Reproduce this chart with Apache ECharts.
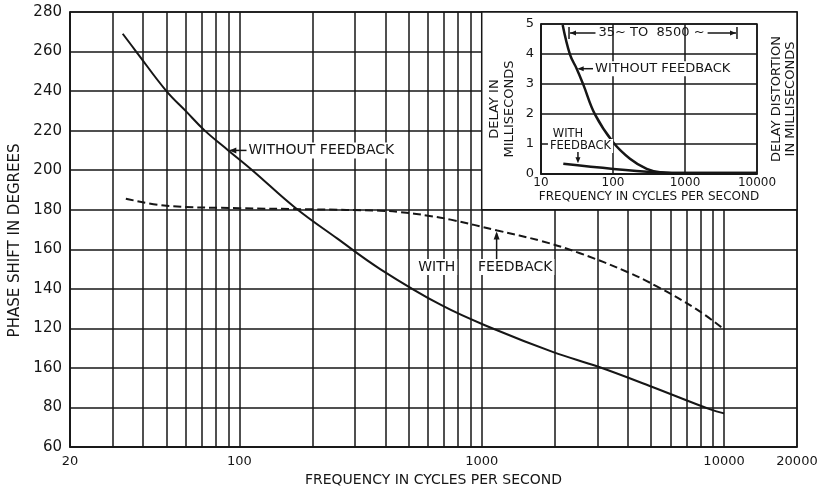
<!DOCTYPE html>
<html><head><meta charset="utf-8">
<script src="https://cdn.jsdelivr.net/npm/echarts@6/dist/echarts.min.js"></script>
<style>html,body{margin:0;padding:0;background:#fff}#c{width:833px;height:488px}</style>
</head><body><div id="c"></div>
<script>
// ---- main chart data (phase shift vs frequency) ----
const freqWithout  = [33, 37.5, 50, 60, 72, 90, 113, 170, 253, 381, 682, 1117, 1974, 3010, 5030, 8780, 10000];
const phaseWithout = [269, 260, 240, 230, 220, 210, 200, 181, 165.5, 150, 131.7, 119.8, 108, 100.7, 90.5, 79, 77];
const freqWith  = [34, 50, 100, 200, 381, 463, 600, 744, 1160, 1758, 2543, 3989, 5324, 7739, 10000];
const phaseWith = [185.6, 182, 180.8, 180.2, 179.5, 178.8, 177, 175, 169.5, 164.2, 158, 148.5, 141, 129.5, 119.5];
const xTickValues = [20, 100, 1000, 10000, 20000];
const xTickLabels = ['20', '100', '1000', '10000', '20000'];
const yTickValues = [60, 80, 100, 120, 140, 160, 180, 200, 220, 240, 260, 280];
const yTickLabels = ['60', '80', '160', '120', '140', '160', '180', '200', '220', '240', '260', '280'];
const minorFreqs = [30, 40, 50, 60, 70, 80, 90, 200, 300, 400, 500, 600, 700, 800, 900, 2000, 3000, 4000, 5000, 6000, 7000, 8000, 9000];

// ---- inset data (delay vs frequency) ----
const insetFreqWithout  = [20, 25.3, 31.3, 38.7, 56.4, 101, 172, 294, 450, 1000, 10000];
const insetDelayWithout = [4.97, 3.98, 3.51, 2.98, 1.98, 1.05, 0.51, 0.17, 0.06, 0.03, 0.03];
const insetFreqWith  = [20.4, 101, 403, 1060, 10000];
const insetDelayWith = [0.34, 0.17, 0.06, 0.03, 0.03];
const insetXTickValues = [10, 100, 1000, 10000];
const insetXTickLabels = ['10', '100', '1000', '10000'];
const insetYTickValues = [0, 1, 2, 3, 4, 5];
const insetYTickLabels = ['0', '1', '2', '3', '4', '5'];

const INK = '#161616';
const FONT = 'DejaVu Sans';
const pair = (xs, ys) => xs.map((x, i) => [x, ys[i]]);
function logLabel(values, labels, v) {
  for (let i = 0; i < values.length; i++) {
    if (Math.abs(Math.log10(values[i]) - Math.log10(v)) < 0.02) return labels[i];
  }
  return '';
}
function linLabel(values, labels, v) {
  for (let i = 0; i < values.length; i++) if (Math.abs(values[i] - v) < 1e-6) return labels[i];
  return '';
}

const chart = echarts.init(document.getElementById('c'), null, {renderer: 'canvas'});
const option = {
  animation: false,
  backgroundColor: '#fff',
  textStyle: {fontFamily: FONT, color: INK},
  grid: [
    {left: 70, right: 36, top: 12, bottom: 41, outerBoundsMode: 'none', containLabel: false, show: true, borderColor: INK, borderWidth: 1.5, backgroundColor: 'transparent', z: 0},
    {left: 541, right: 76, top: 24, bottom: 314, outerBoundsMode: 'none', containLabel: false, show: true, borderColor: INK, borderWidth: 1.5, backgroundColor: '#fff', z: 5}
  ],
  xAxis: [
    {type: 'log', logBase: 10, gridIndex: 0, min: 20, max: 20000,
     name: 'FREQUENCY IN CYCLES PER SECOND', nameLocation: 'middle', nameGap: 21,
     nameTextStyle: {fontSize: 14, color: INK, fontFamily: FONT},
     axisLine: {show: true, lineStyle: {color: INK, width: 1.5}}, axisTick: {show: false},
     axisLabel: {fontSize: 13, color: INK, fontFamily: FONT, margin: 8, formatter: v => logLabel(xTickValues, xTickLabels, v)},
     splitLine: {show: true, lineStyle: {color: INK, width: 1.5}}},
    {type: 'log', logBase: 10, gridIndex: 1, min: 10, max: 10000, z: 5,
     name: 'FREQUENCY IN CYCLES PER SECOND', nameLocation: 'middle', nameGap: 17,
     nameTextStyle: {fontSize: 12, color: INK, fontFamily: FONT},
     axisLine: {show: true, lineStyle: {color: INK, width: 1.5}}, axisTick: {show: false},
     axisLabel: {fontSize: 12, color: INK, fontFamily: FONT, margin: 3, formatter: v => logLabel(insetXTickValues, insetXTickLabels, v)},
     splitLine: {show: true, lineStyle: {color: INK, width: 1.5}}}
  ],
  yAxis: [
    {type: 'value', gridIndex: 0, min: 60, max: 280, interval: 20,
     name: 'PHASE SHIFT IN DEGREES', nameLocation: 'middle', nameGap: 40,
     nameTextStyle: {fontSize: 15, color: INK, fontFamily: FONT, padding: [0, 22, 0, 0]},
     axisLine: {show: true, lineStyle: {color: INK, width: 1.5}}, axisTick: {show: false},
     axisLabel: {fontSize: 15, color: INK, fontFamily: FONT, margin: 8, formatter: v => linLabel(yTickValues, yTickLabels, v)},
     splitLine: {show: true, lineStyle: {color: INK, width: 1.5}}},
    {type: 'value', gridIndex: 1, min: 0, max: 5, interval: 1, z: 5,
     name: 'DELAY IN\nMILLISECONDS', nameLocation: 'middle', nameGap: 24,
     nameTextStyle: {fontSize: 13, lineHeight: 15, color: INK, fontFamily: FONT, padding: [0, 20, 0, 0]},
     axisLine: {show: true, lineStyle: {color: INK, width: 1.5}}, axisTick: {show: false},
     axisLabel: {fontSize: 13, color: INK, fontFamily: FONT, margin: 7, formatter: v => linLabel(insetYTickValues, insetYTickLabels, v)},
     splitLine: {show: true, lineStyle: {color: INK, width: 1.5}}},
    {type: 'value', gridIndex: 1, min: 0, max: 5, interval: 1, z: 5, position: 'right',
     name: 'DELAY DISTORTION\nIN MILLISECONDS', nameLocation: 'middle', nameGap: 13, nameRotate: 90,
     nameTextStyle: {fontSize: 13, lineHeight: 14, color: INK, fontFamily: FONT},
     axisLine: {show: false}, axisTick: {show: false}, axisLabel: {show: false}, splitLine: {show: false}}
  ],
  series: [
    {type: 'line', name: 'WITHOUT FEEDBACK', xAxisIndex: 0, yAxisIndex: 0, z: 4,
     data: pair(freqWithout, phaseWithout), smooth: 0.4, showSymbol: false,
     lineStyle: {color: INK, width: 2},
     markLine: {silent: true, z: 1, symbol: ['none', 'none'], label: {show: false},
       lineStyle: {color: INK, width: 1.5, type: 'solid'},
       data: minorFreqs.map(f => ({xAxis: f}))},
     markArea: {silent: true, z: 3, label: {show: false},
       itemStyle: {color: '#fff', borderColor: INK, borderWidth: 1.5},
       data: [[{coord: [1000, 180]}, {coord: [20000, 280]}]]}},
    {type: 'line', name: 'WITH FEEDBACK', xAxisIndex: 0, yAxisIndex: 0, z: 4,
     data: pair(freqWith, phaseWith), smooth: 0.4, showSymbol: false,
     lineStyle: {color: INK, width: 2, type: [8, 4]}},
    {type: 'line', xAxisIndex: 1, yAxisIndex: 1, z: 6,
     data: pair(insetFreqWithout, insetDelayWithout), smooth: 0.4, showSymbol: false,
     lineStyle: {color: INK, width: 2.5}},
    {type: 'line', xAxisIndex: 1, yAxisIndex: 1, z: 6,
     data: pair(insetFreqWith, insetDelayWith), smooth: 0.4, showSymbol: false,
     lineStyle: {color: INK, width: 2.5}}
  ]
};
chart.setOption(option);

// ---- annotations anchored to data coordinates ----
const P = (s, x, y) => chart.convertToPixel({seriesIndex: s}, [x, y]);
const ctx = document.createElement('canvas').getContext('2d');
function textW(t, size) { ctx.font = size + 'px ' + FONT; return ctx.measureText(t).width; }
const G = [];
function txt(t, x, y, size, align, bg) {
  G.push({type: 'text', z: 10, style: {text: t, x: x, y: y, fill: INK, font: size + 'px "' + FONT + '"',
    textAlign: align || 'center', textVerticalAlign: 'middle',
    backgroundColor: bg ? '#fff' : null, padding: bg ? [1, 2, 1, 2] : 0}});
}
function seg(a, b, w) { G.push({type: 'line', z: 10, shape: {x1: a[0], y1: a[1], x2: b[0], y2: b[1]}, style: {stroke: INK, lineWidth: w || 1.5}}); }
function head(tip, dir, len, half) {
  const bx = tip[0] - dir[0] * len, by = tip[1] - dir[1] * len;
  const px = -dir[1], py = dir[0];
  G.push({type: 'polygon', z: 10, shape: {points: [tip, [bx + px * half, by + py * half], [bx - px * half, by - py * half]]}, style: {fill: INK}});
}

// main: WITHOUT FEEDBACK
{
  const tip = P(0, 90, 210);
  const tp = P(0, 107, 210);
  txt('WITHOUT FEEDBACK', tp[0], tip[1], 14, 'left', true);
  seg([tp[0], tip[1]], [tip[0] + 2, tip[1]]);
  head([tip[0] + 1, tip[1]], [-1, 0], 7, 3);
}
// main: WITH FEEDBACK
{
  const w = P(0, 652, 151), f = P(0, 1375, 151);
  txt('WITH', w[0], w[1], 14, 'center', true);
  txt('FEEDBACK', f[0], f[1], 14, 'center', true);
  const tip = P(0, 1152, 169.5);
  seg([tip[0], f[1] - 8], [tip[0], tip[1] + 3]);
  head([tip[0], tip[1] + 1], [0, -1], 8, 3);
}
// inset: WITHOUT FEEDBACK
{
  const tip = P(2, 31.3, 3.51);
  const tp = P(2, 52.8, 3.51);
  txt('WITHOUT FEEDBACK', tp[0], tip[1], 13, 'left', true);
  seg([tp[0], tip[1]], [tip[0] + 2, tip[1]]);
  head([tip[0] + 1, tip[1]], [-1, 0], 6, 2.5);
}
// inset: WITH FEEDBACK
{
  const w = P(2, 23.7, 1.32), f = P(2, 35.4, 0.93);
  txt('WITH', w[0], w[1], 11.5, 'center', true);
  txt('FEEDBACK', f[0], f[1], 11.5, 'center', true);
  const tip = P(2, 32.6, 0.36);
  seg([tip[0], f[1] + 6], [tip[0], tip[1] - 3]);
  head([tip[0], tip[1]], [0, 1], 6, 2.5);
}
// inset: 35~ TO 8500 ~ range marker
{
  const label = '35~ TO  8500 ~';
  const c = P(2, 343, 4.7);
  const l = P(2, 24.5, 4.7), r = P(2, 5272, 4.7);
  txt(label, c[0], c[1], 13, 'center', false);
  const hw = textW(label, 13) / 2;
  seg([l[0], c[1] - 6], [l[0], c[1] + 6]);
  seg([r[0], c[1] - 6], [r[0], c[1] + 6]);
  seg([l[0] + 1, c[1]], [c[0] - hw - 3, c[1]]);
  head([l[0] + 1, c[1]], [-1, 0], 6, 2.5);
  seg([c[0] + hw + 3, c[1]], [r[0] - 1, c[1]]);
  head([r[0] - 1, c[1]], [1, 0], 6, 2.5);
}
chart.setOption({graphic: G});
</script>
</body></html>
